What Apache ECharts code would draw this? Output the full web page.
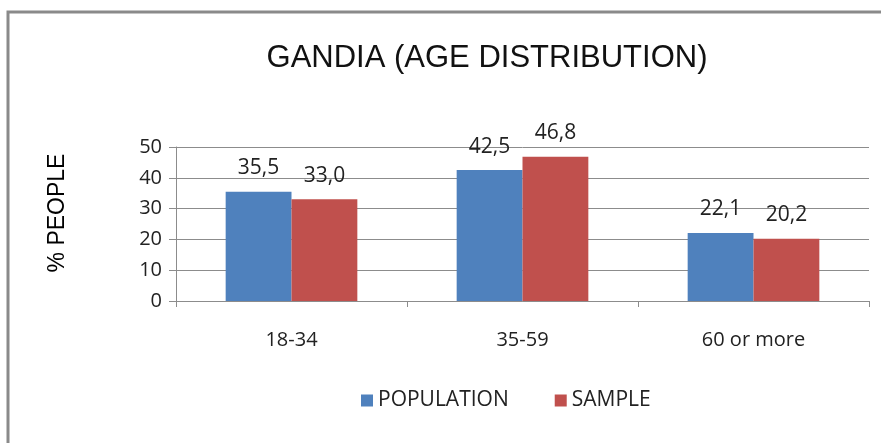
<!DOCTYPE html>
<html>
<head>
<meta charset="utf-8">
<title>GANDIA (AGE DISTRIBUTION)</title>
<script src="https://cdn.jsdelivr.net/npm/echarts@6/dist/echarts.min.js"></script>
<style>
  html, body { margin: 0; padding: 0; background: #fff; }
  #chart { width: 881px; height: 443px; }
</style>
</head>
<body>
<div id="chart"></div>
<script>
// age groups and the two series (% of people)
const categories = ['18-34', '35-59', '60 or more']
const population = [35.5, 42.5, 22.1]
const sample = [33.0, 46.8, 20.2]
const yTicks = { min: 0, max: 50, interval: 10 }

const chart = echarts.init(document.getElementById('chart'))

// labels use a comma as decimal separator
const fmt = v => v.toFixed(1).replace('.', ',')

const labelFont = 'Open Sans, Noto Sans, sans-serif'

const option = {
    animation: false,
    backgroundColor: '#fff',
    title: {
        text: 'GANDIA (AGE DISTRIBUTION)',
        left: 482,
        textAlign: 'center',
        top: 38,
        textStyle: {
            fontFamily: 'Liberation Sans, Arial, sans-serif',
            fontWeight: 'normal',
            fontSize: 31,
            color: '#111'
        }
    },
    // outer frame of the chart area
    graphic: [{
        type: 'rect',
        shape: { x: 8, y: 12, width: 1000, height: 600 },
        style: { fill: 'none', stroke: '#8a8a8a', lineWidth: 3 },
        silent: true
    }],
    legend: {
        data: ['POPULATION', 'SAMPLE'],
        left: 356,
        top: 385,
        icon: 'rect',
        itemWidth: 12,
        itemHeight: 12,
        itemGap: 46,
        textStyle: { fontFamily: labelFont, fontSize: 21, color: '#222' }
    },
    grid: { left: 176, right: 12, top: 147, bottom: 142 },
    xAxis: {
        type: 'category',
        data: categories,
        axisLine: { lineStyle: { color: '#8c8c8c', width: 1 } },
        axisTick: { show: true, length: 6, lineStyle: { color: '#8c8c8c' } },
        axisLabel: { margin: 29, fontFamily: labelFont, fontSize: 20, color: '#222' }
    },
    yAxis: {
        type: 'value',
        min: yTicks.min,
        max: yTicks.max,
        interval: yTicks.interval,
        name: '% PEOPLE',
        nameLocation: 'middle',
        nameRotate: 90,
        nameGap: 107,
        nameTextStyle: {
            fontFamily: 'Liberation Sans, Arial, sans-serif',
            fontWeight: 'normal',
            fontSize: 23,
            color: '#000',
            padding: [0, 0, 0, 22]
        },
        axisLine: { show: true, lineStyle: { color: '#8c8c8c', width: 1 } },
        axisTick: { show: true, length: 7, lineStyle: { color: '#8c8c8c' } },
        splitLine: { lineStyle: { color: '#8c8c8c', width: 1 } },
        axisLabel: { margin: 14, fontFamily: labelFont, fontSize: 20, color: '#222' }
    },
    series: [
        {
            name: 'POPULATION',
            type: 'bar',
            data: population,
            barGap: '0%',
            barCategoryGap: '43%',
            itemStyle: { color: '#4F81BD' },
            label: {
                show: true,
                position: 'top',
                distance: 13,
                formatter: p => fmt(p.value),
                fontFamily: labelFont,
                fontSize: 21,
                color: '#222'
            }
        },
        {
            name: 'SAMPLE',
            type: 'bar',
            data: sample,
            itemStyle: { color: '#C0504D' },
            label: {
                show: true,
                position: 'top',
                distance: 13,
                formatter: p => fmt(p.value),
                fontFamily: labelFont,
                fontSize: 21,
                color: '#222'
            }
        }
    ]
}

chart.setOption(option)
</script>
</body>
</html>
